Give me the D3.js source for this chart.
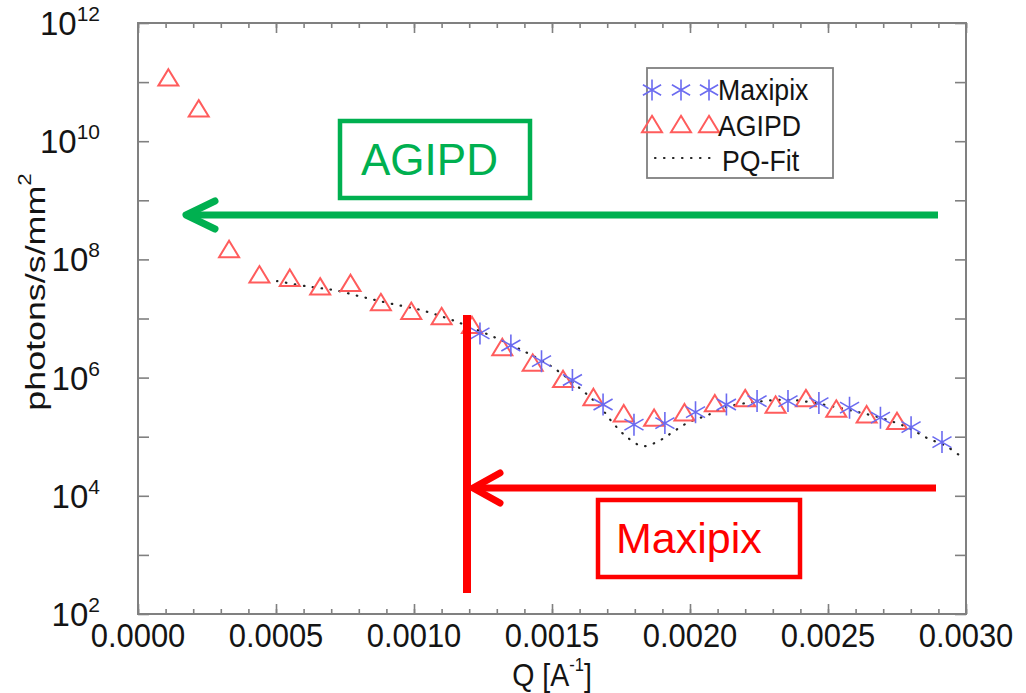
<!DOCTYPE html>
<html>
<head>
<meta charset="utf-8">
<script src="https://cdn.jsdelivr.net/npm/d3@7"></script>
<style>
  html, body { margin: 0; padding: 0; background: #fff; }
  svg { display: block; font-family: "Liberation Sans", Arial, Helvetica, sans-serif; }
</style>
</head>
<body>
<svg id="chart" width="1026" height="693"></svg>
<script>
// ---- data (Q in 1/A, intensity in photons/s/mm^2) ----
const agipdQ = [0.00011, 0.00022, 0.00033, 0.00044, 0.00055, 0.00066, 0.00077, 0.00088, 0.00099, 0.00110,
                0.00121, 0.00132, 0.00143, 0.00154, 0.00165, 0.00176, 0.00187, 0.00198, 0.00209, 0.00220,
                0.00231, 0.00242, 0.00253, 0.00264, 0.00275];
const agipdI = [1.2e11, 3.6e10, 1.5e8, 5.6e7, 4.9e7, 3.5e7, 4.0e7, 1.9e7, 1.35e7, 1.1e7,
                7.8e6, 3.3e6, 1.8e6, 9.5e5, 4.7e5, 2.5e5, 2.1e5, 2.6e5, 3.7e5, 4.5e5,
                3.5e5, 4.5e5, 3.0e5, 2.4e5, 1.85e5];

const maxipixQ = [0.001239, 0.001351, 0.001462, 0.001574, 0.001685, 0.001797, 0.001909, 0.002020,
                  0.002132, 0.002243, 0.002355, 0.002467, 0.002578, 0.002690, 0.002801, 0.002913];
const maxipixI = [5.6e6, 3.5e6, 1.9e6, 9.1e5, 3.5e5, 1.6e5, 1.7e5, 2.6e5,
                  3.5e5, 4.0e5, 4.0e5, 3.7e5, 3.1e5, 2.1e5, 1.45e5, 8.1e4];

const fitQ = [0.000504, 0.000612, 0.000714, 0.000815, 0.000913, 0.001022, 0.001141, 0.001275, 0.001373,
              0.001493, 0.001601, 0.001674, 0.001721, 0.001772, 0.001830, 0.001891, 0.001938, 0.001989,
              0.002062, 0.002134, 0.002243, 0.002362, 0.002482, 0.002580, 0.002688, 0.002786, 0.002859,
              0.002931, 0.002996];
const fitI = [4.3e7, 3.5e7, 3.0e7, 2.3e7, 1.8e7, 1.4e7, 9.3e6, 5.2e6, 3.2e6,
              1.6e6, 6.6e5, 3.2e5, 1.7e5, 9.8e4, 6.9e4, 8.7e4, 1.2e5, 1.7e5,
              2.3e5, 3.2e5, 3.9e5, 4.2e5, 3.5e5, 2.8e5, 2.1e5, 1.45e5, 9.5e4,
              6.8e4, 4.1e4];

const xTickValues = [0, 0.0005, 0.001, 0.0015, 0.002, 0.0025, 0.003];
const xTickLabels = ["0.0000", "0.0005", "0.0010", "0.0015", "0.0020", "0.0025", "0.0030"];
const yLabelExponents = [2, 4, 6, 8, 10, 12];

const legendNames = ["Maxipix", "AGIPD", "PQ-Fit"];

// ---- layout ----
const svg = d3.select("#chart");
const plot = { left: 138, top: 23, right: 966, bottom: 614 };

const x = d3.scaleLinear().domain([0, 0.003]).range([plot.left, plot.right]);
const y = d3.scaleLog().domain([1e2, 1e12]).range([plot.bottom, plot.top]);

const frameColor = "#808080";
const textColor = "#141414";
const triColor = "#ff5c5c";
const starColor = "#6b6bf0";
const green = "#00b050";
const red = "#ff0000";

// ---- axes (ticks inside, mirrored on all four sides) ----
const xMinor = d3.range(0, 31).map(i => i * 0.0001);
const decades = d3.range(2, 13).map(e => Math.pow(10, e));

function tickStyle(sel) {
  sel.selectAll(".domain").remove();
  sel.selectAll(".tick line").attr("stroke", frameColor).attr("stroke-width", 1.6);
}

svg.append("g").attr("transform", `translate(0,${plot.bottom})`)
  .call(d3.axisBottom(x).tickValues(xMinor).tickSize(-5).tickFormat(""))
  .call(tickStyle);
svg.append("g").attr("transform", `translate(0,${plot.bottom})`)
  .call(d3.axisBottom(x).tickValues(xTickValues).tickSize(-10).tickFormat(""))
  .call(tickStyle);
svg.append("g").attr("transform", `translate(0,${plot.top})`)
  .call(d3.axisTop(x).tickValues(xMinor).tickSize(-5).tickFormat(""))
  .call(tickStyle);
svg.append("g").attr("transform", `translate(0,${plot.top})`)
  .call(d3.axisTop(x).tickValues(xTickValues).tickSize(-10).tickFormat(""))
  .call(tickStyle);
svg.append("g").attr("transform", `translate(${plot.left},0)`)
  .call(d3.axisLeft(y).tickValues(decades).tickSize(-11).tickFormat(""))
  .call(tickStyle);
svg.append("g").attr("transform", `translate(${plot.right},0)`)
  .call(d3.axisRight(y).tickValues(decades).tickSize(-11).tickFormat(""))
  .call(tickStyle);

svg.append("rect")
  .attr("x", plot.left).attr("y", plot.top)
  .attr("width", plot.right - plot.left).attr("height", plot.bottom - plot.top)
  .attr("fill", "none").attr("stroke", frameColor).attr("stroke-width", 2);

// x tick labels (narrow, tall numerals)
svg.append("g").selectAll("text")
  .data(xTickValues)
  .join("text")
  .attr("transform", d => `translate(${x(d)},647) scale(0.91,1)`)
  .attr("text-anchor", "middle")
  .attr("font-size", 34)
  .attr("fill", textColor)
  .text((d, i) => xTickLabels[i]);

// y tick labels: 10^n
const yLab = svg.append("g").selectAll("text")
  .data(yLabelExponents)
  .join("text")
  .attr("x", 100)
  .attr("y", e => y(Math.pow(10, e)) + 12)
  .attr("text-anchor", "end")
  .attr("fill", textColor);
yLab.append("tspan").attr("font-size", 33).text("10");
yLab.append("tspan").attr("font-size", 21).attr("dy", -14).text(e => e);

// axis titles
const xt = svg.append("text")
  .attr("transform", "translate(552,686) scale(0.92,1)")
  .attr("text-anchor", "middle")
  .attr("font-size", 31)
  .attr("fill", textColor);
xt.append("tspan").text("Q [A");
xt.append("tspan").attr("font-size", 18).attr("dy", -15).text("-1");
xt.append("tspan").attr("dy", 15).text("]");

const yt = svg.append("text")
  .attr("transform", "translate(45,292) rotate(-90) scale(1.12,0.88)")
  .attr("text-anchor", "middle")
  .attr("font-size", 32)
  .attr("fill", textColor);
yt.append("tspan").text("photons/s/mm");
yt.append("tspan").attr("font-size", 20).attr("dy", -16).text("2");

// ---- marker shapes ----
function triPath(s) {
  const h = s * 0.82;
  return `M0,${-h / 2}L${s / 2},${h / 2}L${-s / 2},${h / 2}Z`;
}
function starPath(r) {
  let p = "";
  for (let k = 0; k < 3; k++) {
    const a = Math.PI / 2 + k * Math.PI / 3;
    const dx = r * Math.cos(a), dy = r * Math.sin(a);
    p += `M${-dx},${-dy}L${dx},${dy}`;
  }
  return p;
}

// ---- fit curve (dotted) ----
const fitData = fitQ.map((q, i) => [q, fitI[i]]);
svg.append("path")
  .datum(fitData)
  .attr("fill", "none")
  .attr("stroke", "#222")
  .attr("stroke-width", 2.2)
  .attr("stroke-linecap", "round")
  .attr("stroke-dasharray", "0.5,8.5")
  .attr("d", d3.line().x(d => x(d[0])).y(d => y(d[1])).curve(d3.curveCatmullRom.alpha(0.5)));

// ---- AGIPD triangles ----
svg.append("g").selectAll("path")
  .data(agipdQ.map((q, i) => [q, agipdI[i]]))
  .join("path")
  .attr("transform", d => `translate(${x(d[0])},${y(d[1])})`)
  .attr("d", triPath(20))
  .attr("fill", "none")
  .attr("stroke", triColor)
  .attr("stroke-width", 2);

// ---- Maxipix stars ----
svg.append("g").selectAll("path")
  .data(maxipixQ.map((q, i) => [q, maxipixI[i]]))
  .join("path")
  .attr("transform", d => `translate(${x(d[0])},${y(d[1])})`)
  .attr("d", starPath(11))
  .attr("fill", "none")
  .attr("stroke", starColor)
  .attr("stroke-width", 1.6);

// ---- legend ----
const lg = svg.append("g");
lg.append("rect")
  .attr("x", 647).attr("y", 68).attr("width", 186).attr("height", 110)
  .attr("fill", "#fff").attr("stroke", frameColor).attr("stroke-width", 1.8);
const legX = [652, 681, 709];
lg.selectAll(".ls").data(legX).join("path")
  .attr("transform", d => `translate(${d},90)`)
  .attr("d", starPath(10.5))
  .attr("fill", "none").attr("stroke", starColor).attr("stroke-width", 1.6);
lg.selectAll(".lt").data(legX).join("path")
  .attr("transform", d => `translate(${d},124)`)
  .attr("d", triPath(20))
  .attr("fill", "none").attr("stroke", triColor).attr("stroke-width", 2);
lg.append("line")
  .attr("x1", 655).attr("x2", 710).attr("y1", 158).attr("y2", 158)
  .attr("stroke", "#222").attr("stroke-width", 2.2)
  .attr("stroke-linecap", "round").attr("stroke-dasharray", "0.5,8.5");
lg.selectAll(".ln").data(legendNames).join("text")
  .attr("transform", (d, i) => `translate(${i === 2 ? 722 : 718},${[100, 136, 171][i]}) scale(0.92,1)`)
  .attr("font-size", 29)
  .attr("fill", textColor)
  .text(d => d);

// ---- annotations ----
// AGIPD range arrow and label
svg.append("line")
  .attr("x1", 938).attr("x2", 187).attr("y1", 215).attr("y2", 215)
  .attr("stroke", green).attr("stroke-width", 7);
svg.append("path")
  .attr("d", "M215,201L186,215L215,229")
  .attr("fill", "none").attr("stroke", green).attr("stroke-width", 7)
  .attr("stroke-linecap", "round").attr("stroke-linejoin", "round");
svg.append("rect")
  .attr("x", 340).attr("y", 121).attr("width", 190).attr("height", 77)
  .attr("fill", "none").attr("stroke", green).attr("stroke-width", 4.5);
svg.append("text")
  .attr("x", 361).attr("y", 175)
  .attr("font-size", 44).attr("fill", green)
  .text("AGIPD");

// Maxipix range marker, arrow and label
svg.append("line")
  .attr("x1", 467).attr("x2", 467).attr("y1", 315).attr("y2", 593)
  .attr("stroke", red).attr("stroke-width", 8);
svg.append("line")
  .attr("x1", 936).attr("x2", 474).attr("y1", 488).attr("y2", 488)
  .attr("stroke", red).attr("stroke-width", 7);
svg.append("path")
  .attr("d", "M500,473L473,488L500,503")
  .attr("fill", "none").attr("stroke", red).attr("stroke-width", 7)
  .attr("stroke-linecap", "round").attr("stroke-linejoin", "round");
svg.append("rect")
  .attr("x", 598).attr("y", 500).attr("width", 202).attr("height", 77)
  .attr("fill", "none").attr("stroke", red).attr("stroke-width", 4.5);
svg.append("text")
  .attr("x", 616).attr("y", 553)
  .attr("font-size", 43).attr("fill", red)
  .text("Maxipix");
</script>
</body>
</html>
